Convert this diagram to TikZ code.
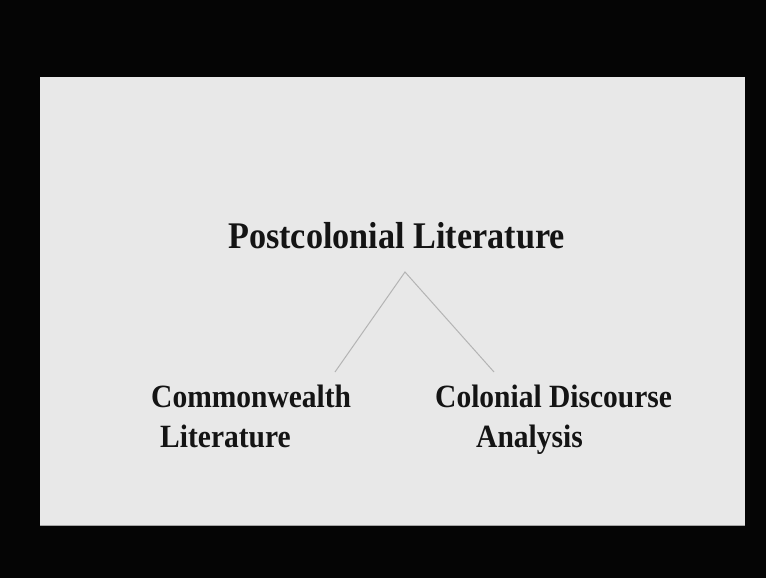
\documentclass[tikz,border=0pt]{standalone}
\usepackage{fontspec}
\setmainfont{Liberation Serif}
\definecolor{slide}{HTML}{E8E8E8}
\definecolor{bg}{HTML}{050505}
\definecolor{ink}{HTML}{141414}
\definecolor{conn}{HTML}{B4B4B4}
\tikzset{
  lbl/.style={inner sep=0pt, text=ink, font=\bfseries},
  connector/.style={draw=conn, line width=1pt}
}
\begin{document}
\begin{tikzpicture}[x=1pt,y=-1pt]
\useasboundingbox (0,0) rectangle (766,578);
\fill[bg] (0,0) rectangle (766,578);
\fill[slide] (40,77) rectangle (745,525);
\draw[color=gray!70, line width=1pt] (40,525) -- (745,525);
\node[lbl, anchor=base west] (title) at (228,248)
  {\fontsize{34.2}{40}\selectfont\scalebox{1}[1.1]{Postcolonial Literature}};
\node[lbl, anchor=base west] (cw) at (151,407)
  {\fontsize{29.5}{40}\selectfont\scalebox{1}[1.1]{Commonwealth}};
\node[lbl, anchor=base west] (cwl) at (160,447)
  {\fontsize{29.5}{40}\selectfont\scalebox{1}[1.1]{Literature}};
\node[lbl, anchor=base west] (cd) at (435,407)
  {\fontsize{29.5}{40}\selectfont\scalebox{1}[1.1]{Colonial Discourse}};
\node[lbl, anchor=base west] (cda) at (476,447)
  {\fontsize{29.5}{40}\selectfont\scalebox{1}[1.1]{Analysis}};
\coordinate (apex) at (405,272);
\coordinate (leftend) at (335,372);
\coordinate (rightend) at (494,372);
\draw[connector] (leftend) -- (apex) -- (rightend);
\end{tikzpicture}
\end{document}
